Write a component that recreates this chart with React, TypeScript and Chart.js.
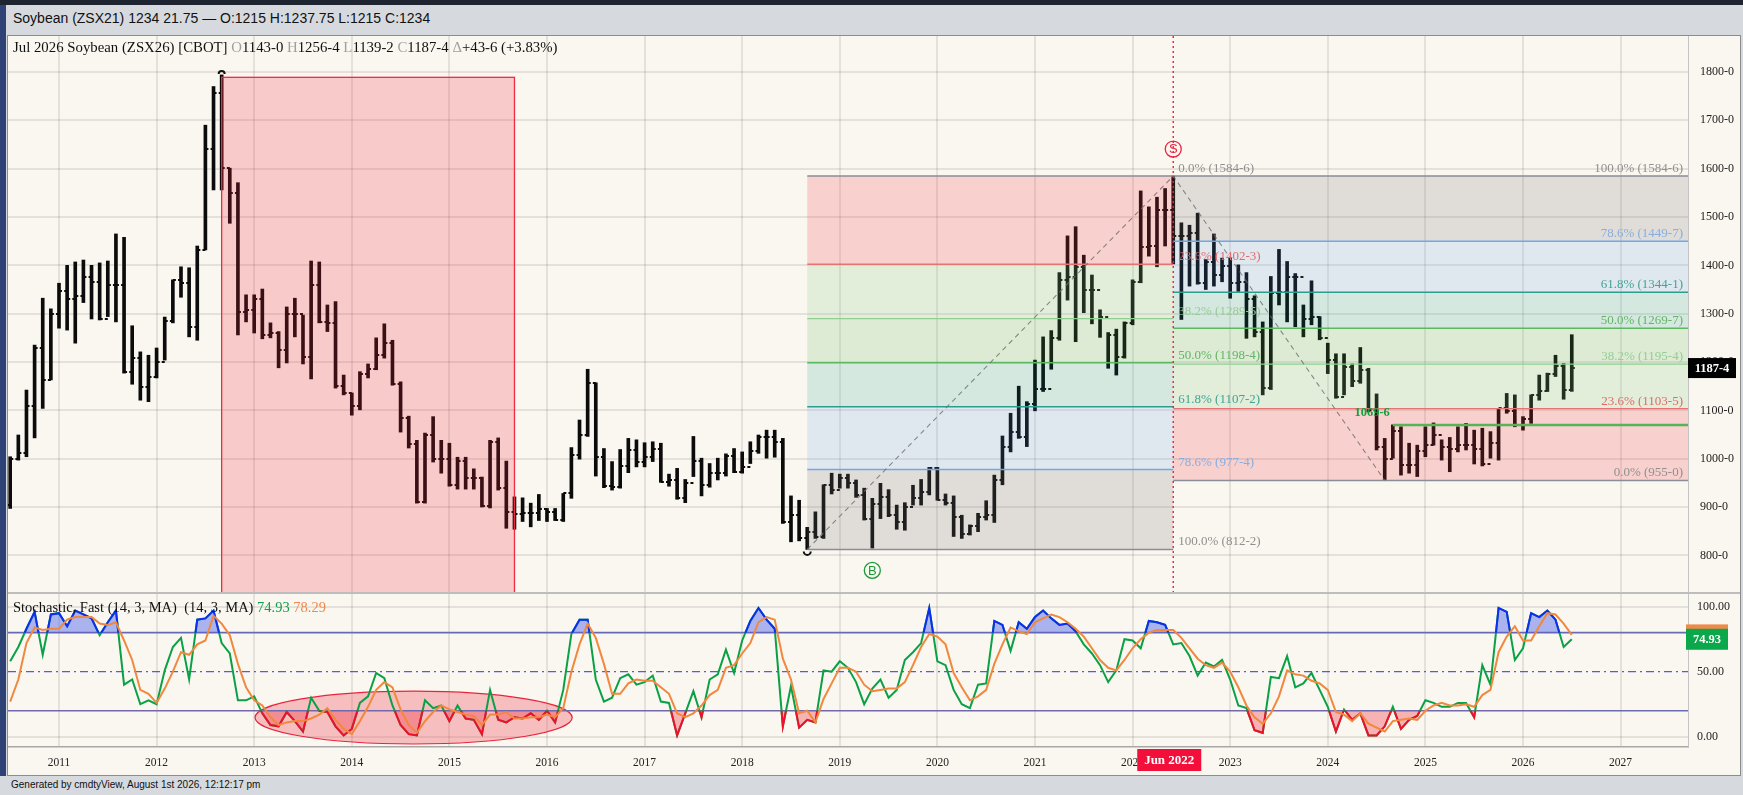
import React, { useEffect, useRef } from "react";
import { Chart, registerables } from "chart.js";
Chart.register(...registerables);

// ---- Monthly bars, Jul 2010 (index 0) .. Jul 2026 (index 192) ----
const highs = [
  1004, 1049, 1142, 1235, 1332, 1310, 1363, 1400, 1407, 1411,
  1400, 1405, 1409, 1465, 1458, 1275, 1221, 1214, 1229, 1293,
  1370, 1397, 1395, 1440, 1690, 1770, 1794, 1601, 1571, 1339,
  1339, 1351, 1281, 1263, 1314, 1332, 1297, 1409, 1407, 1318,
  1325, 1173, 1136, 1180, 1196, 1250, 1279, 1245, 1159, 1088,
  1038, 1053, 1087, 1038, 1032, 1003, 1003, 979, 962, 1038,
  1043, 995, 921, 919, 908, 926, 897, 897, 928, 1023,
  1080, 1185, 1157, 1021, 994, 1019, 1042, 1039, 1033, 1035,
  1032, 968, 980, 957, 1046, 1001, 990, 1001, 1010, 1021,
  1014, 1035, 1049, 1059, 1059, 1042, 923, 914, 858, 890,
  946, 970, 968, 968, 956, 939, 918, 949, 936, 904,
  909, 945, 957, 982, 982, 927, 923, 883, 863, 887,
  913, 966, 1047, 1094, 1150, 1118, 1204, 1252, 1265, 1385,
  1461, 1480, 1421, 1380, 1308, 1261, 1268, 1283, 1370, 1554,
  1521, 1541, 1559, 1584.75, 1488, 1483, 1508, 1412, 1465, 1415,
  1415, 1401, 1385, 1337, 1283, 1377, 1433, 1408, 1383, 1318,
  1368, 1294, 1239, 1217, 1217, 1196, 1230, 1187, 1134, 1042,
  1070, 1066, 1032, 1028, 1066, 1074, 1039, 1044, 1066, 1073,
  1059, 1063, 1056, 1104, 1135, 1132, 1087, 1132, 1173, 1177,
  1214, 1197, 1256.5,
];
const lows = [
  897, 997, 1004, 1043, 1104, 1163, 1270, 1266, 1239, 1323,
  1289, 1287, 1294, 1283, 1177, 1154, 1121, 1118, 1167, 1204,
  1281, 1334, 1252, 1245, 1432, 1556, 1556, 1487, 1256, 1283,
  1260, 1248, 1250, 1188, 1198, 1252, 1196, 1165, 1281, 1263,
  1146, 1132, 1090, 1101, 1167, 1184, 1208, 1152, 1055, 1022,
  908, 908, 993, 970, 943, 937, 937, 937, 900, 898,
  935, 856, 854, 870, 859, 872, 870, 872, 870, 918,
  999, 1046, 964, 940, 935, 939, 971, 983, 983, 994,
  951, 943, 916, 909, 963, 923, 941, 956, 964, 971,
  970, 990, 1011, 1001, 1003, 866, 828, 830, 812.25, 835,
  835, 927, 939, 939, 920, 873, 815, 876, 880, 854,
  852, 904, 904, 925, 914, 904, 839, 835, 842, 849,
  873, 868, 946, 1014, 1042, 1025, 1099, 1139, 1185, 1245,
  1328, 1242, 1302, 1279, 1251, 1187, 1173, 1208, 1277, 1364,
  1419, 1397, 1440, 1403, 1288, 1357, 1361, 1350, 1357, 1366,
  1332, 1346, 1249, 1252, 1132, 1143, 1318, 1283, 1273, 1252,
  1277, 1246, 1176, 1125, 1132, 1149, 1156, 1097, 1018, 955,
  1001, 966, 970, 963, 1004, 1028, 997, 973, 1014, 1018,
  989, 985, 1001, 997, 1094, 1066, 1059, 1073, 1121, 1139,
  1170, 1123, 1139.25,
];
const closes = [
  1000, 1012, 1108, 1229, 1163, 1300, 1346, 1330, 1337, 1376,
  1366, 1290, 1359, 1359, 1180, 1208, 1149, 1170, 1200, 1284,
  1369, 1363, 1273, 1432, 1640, 1756, 1601, 1549, 1304, 1308,
  1330, 1255, 1260, 1225, 1300, 1300, 1210, 1359, 1283, 1281,
  1150, 1135, 1108, 1175, 1185, 1215, 1240, 1155, 1085, 1030,
  910, 1050, 1000, 1000, 945, 995, 960, 960, 903, 1035,
  940, 890, 885, 888, 887, 895, 890, 874, 928, 1007,
  1050, 1156, 1004, 943, 942, 985, 1017, 994, 1004, 1021,
  952, 956, 918, 950, 995, 945, 970, 970, 1005, 973,
  983, 1015, 1045, 1045, 1035, 868, 883, 835, 849, 838,
  945, 935, 960, 950, 925, 876, 906, 920, 883, 869,
  900, 918, 932, 980, 915, 908, 880, 845, 860, 880,
  883, 955, 1025, 1056, 1045, 1114, 1145, 1145, 1250, 1370,
  1376, 1397, 1349, 1349, 1294, 1255, 1210, 1280, 1366, 1438,
  1439, 1514, 1514, 1460, 1460, 1467, 1364, 1407, 1380, 1399,
  1364, 1366, 1330, 1262, 1146, 1342, 1344, 1376, 1376, 1290,
  1294, 1250, 1204, 1128, 1190, 1160, 1183, 1100, 1025, 1000,
  1058, 987, 987, 1015, 1028, 1049, 1025, 1021, 1028, 1028,
  1021, 990, 1032, 1104, 1099, 1070, 1083, 1131, 1139, 1176,
  1191, 1143, 1187.5,
];
const firstOpen = 905;

// ---- Stochastic Fast (14,3) ----
const stochK = [
  58, 69, 83, 96, 63, 94, 95, 85, 97, 94,
  91, 78, 88, 97, 40, 44, 25, 28, 25, 51,
  69, 76, 44, 90, 91, 97, 72, 64, 28, 28,
  31, 18, 9, 8, 19, 12, 4, 30, 20, 19,
  8, 1, 6, 26, 31, 49, 45, 24, 9, 2,
  1, 28, 22, 24, 12, 24, 14, 13, 2, 36,
  13, 11, 15, 14, 18, 13, 20, 11, 36, 79,
  90, 90, 44, 27, 30, 45, 48, 40, 42, 47,
  27, 26, 1, 18, 35, 15, 44, 48, 67, 49,
  74, 89, 99, 90, 83, 8, 39, 7, 13, 11,
  51, 50, 58, 53, 42, 25, 37, 44, 30, 36,
  59, 65, 72, 99, 58, 55, 36, 25, 22, 40,
  41, 89, 86, 66, 88, 83, 92, 97, 91, 86,
  87, 81, 71, 64, 55, 42, 51, 75, 74, 68,
  89, 88, 86, 71, 72, 62, 47, 57, 54, 59,
  44, 24, 22, 5, 3, 46, 45, 62, 38, 41,
  49, 36, 23, 4, 21, 13, 18, 1, 1, 8,
  23, 6, 13, 16, 28, 26, 23, 23, 26, 26,
  15, 55, 40, 99, 96, 59, 68, 95, 92, 97,
  90, 69, 74.93,
];
const stochD = [
  27, 44, 72, 84, 82, 83, 83, 90, 92, 92,
  92, 87, 86, 88, 74, 59, 36, 33, 26, 37,
  50, 65, 63, 71, 74, 93, 87, 78, 56, 38,
  28, 24, 15, 9, 11, 12, 12, 14, 17, 22,
  13, 6, 2, 12, 23, 36, 42, 38, 21, 9,
  3, 12, 19, 24, 21, 19, 17, 16, 9, 17,
  17, 19, 14, 14, 15, 15, 17, 15, 22, 50,
  71, 87, 76, 56, 33, 33, 41, 44, 43, 43,
  38, 33, 18, 15, 18, 24, 32, 36, 53, 55,
  64, 72, 88, 92, 90, 60, 44, 18, 20, 11,
  29, 41, 53, 53, 50, 40, 35, 36, 37, 37,
  42, 55, 69, 79, 77, 71, 49, 38, 28, 31,
  36, 56, 71, 84, 81, 79, 88, 91, 94, 92,
  88, 83, 77, 68, 59, 53, 51, 59, 68, 75,
  80, 82, 82, 82, 76, 68, 60, 55, 53, 57,
  50, 38, 24, 15, 10, 18, 31, 51, 48, 47,
  43, 41, 36, 19, 17, 12, 18, 10, 7, 4,
  12, 13, 14, 13, 20, 24, 26, 24, 24, 25,
  23, 32, 36, 65, 77, 85, 74, 74, 85, 95,
  94, 87, 78.29,
];

const yearLabels = ["2011", "2012", "2013", "2014", "2015", "2016", "2017", "2018", "2019", "2020", "2021", "2022", "2023", "2024", "2025", "2026", "2027"];
const yearTickIdx = [6, 18, 30, 42, 54, 66, 78, 90, 102, 114, 126, 138, 150, 162, 174, 186, 198];
const priceTicks = [800, 900, 1000, 1100, 1200, 1300, 1400, 1500, 1600, 1700, 1800];
const stochTicks = [0, 50, 100];

// drawing tools (values in month index / price units)
const redBox = { fromIdx: 26, toIdx: 62, top: 1789 };
const fibUp = { fromIdx: 98, toIdx: 143, low: 812.25, high: 1584.75 };
const fibDown = { fromIdx: 143, lowIdx: 169, low: 955, high: 1584.75 };
const fibLevels = [0, 0.236068, 0.381966, 0.5, 0.618034, 0.786, 1];
const fibUpLabels = ["0.0% (1584-6)", "23.6% (1402-3)", "38.2% (1289-5)", "50.0% (1198-4)", "61.8% (1107-2)", "78.6% (977-4)", "100.0% (812-2)"];
const fibDownLabels = ["0.0% (955-0)", "23.6% (1103-5)", "38.2% (1195-4)", "50.0% (1269-7)", "61.8% (1344-1)", "78.6% (1449-7)", "100.0% (1584-6)"];
const fibLineColors = ["#8a8d96", "#e57373", "#8fcf8f", "#5cb860", "#2a9d8f", "#6fa8e8", "#8a8d96"];
const fibTextColors = ["#8f8f8f", "#e06a6a", "#96cc96", "#62b566", "#44a294", "#86aee0", "#8f8f8f"];
const fibBandColors = [
  "rgba(242,54,69,0.2)",
  "rgba(129,199,132,0.2)",
  "rgba(76,175,80,0.17)",
  "rgba(0,150,136,0.15)",
  "rgba(80,150,235,0.15)",
  "rgba(120,115,120,0.2)",
];
const supportLine = { fromIdx: 170, value: 1069.75, label: "1069-6" };
const sMarker = { idx: 143 };
const bMarker = { idx: 106 };
const lastPrice = { value: 1187.5, label: "1187-4" };
const markerIdx = { peak: 26, trough: 98 };
const stochEllipse = { fromIdx: 30.1, toIdx: 69.1, top: 35, bottom: -5.6 };
const dateFlag = { idx: 143, label: "Jun 2022" };

const xMin = -0.27;
const xMax = 206.29;
const SERIF = '"Liberation Serif", "DejaVu Serif", serif';
const SANS = '"Liberation Sans", Arial, sans-serif';
const gridColor = "rgba(0,0,0,0.085)";

function tickImage(side: "left" | "right") {
  const c = document.createElement("canvas");
  c.width = 10;
  c.height = 2;
  const g = c.getContext("2d")!;
  g.fillStyle = "#0b0b0b";
  if (side === "left") g.fillRect(2, 0, 3, 2);
  else g.fillRect(5, 0, 3, 2);
  return c;
}

export default function App() {
  const priceRef = useRef<HTMLCanvasElement>(null);
  const stochRef = useRef<HTMLCanvasElement>(null);

  useEffect(() => {
    Chart.defaults.font.family = SERIF;
    const idx = highs.map((_, i) => i);
    const opens = closes.map((_, i) => (i === 0 ? firstOpen : closes[i - 1]));

    const pricePlugin = {
      id: "priceOverlay",
      afterDatasetsDraw(chart: any) {
        const { ctx, chartArea: a, scales } = chart;
        const X = (v: number) => scales.x.getPixelForValue(v);
        const Y = (v: number) => scales.y.getPixelForValue(v);
        ctx.save();
        ctx.beginPath();
        ctx.rect(a.left, a.top, a.right - a.left, a.bottom - a.top);
        ctx.clip();

        // red box
        const rx0 = X(redBox.fromIdx), rx1 = X(redBox.toIdx), ry0 = Y(redBox.top);
        ctx.fillStyle = "rgba(240,40,60,0.21)";
        ctx.fillRect(rx0, ry0, rx1 - rx0, a.bottom - ry0 + 2);
        ctx.strokeStyle = "#ef2a42";
        ctx.lineWidth = 1.3;
        ctx.strokeRect(rx0, ry0, rx1 - rx0, a.bottom - ry0 + 4);

        // fib retracement (up move, measured from top)
        const upRange = fibUp.high - fibUp.low;
        const upP = fibLevels.map((l) => fibUp.high - l * upRange);
        const ux0 = X(fibUp.fromIdx), ux1 = X(fibUp.toIdx);
        for (let k = 0; k < 6; k++) {
          ctx.fillStyle = fibBandColors[k];
          ctx.fillRect(ux0, Y(upP[k]), ux1 - ux0, Y(upP[k + 1]) - Y(upP[k]));
        }
        // fib retracement (down move, measured from bottom)
        const dnRange = fibDown.high - fibDown.low;
        const dnP = fibLevels.map((l) => fibDown.low + l * dnRange);
        const dx0 = X(fibDown.fromIdx), dx1 = a.right;
        for (let k = 0; k < 6; k++) {
          ctx.fillStyle = fibBandColors[k];
          ctx.fillRect(dx0, Y(dnP[k + 1]), dx1 - dx0, Y(dnP[k]) - Y(dnP[k + 1]));
        }
        ctx.lineWidth = 1.4;
        for (let k = 0; k < 7; k++) {
          ctx.strokeStyle = fibLineColors[k];
          ctx.beginPath();
          ctx.moveTo(ux0, Y(upP[k]));
          ctx.lineTo(ux1, Y(upP[k]));
          ctx.stroke();
          ctx.beginPath();
          ctx.moveTo(dx0, Y(dnP[k]));
          ctx.lineTo(dx1, Y(dnP[k]));
          ctx.stroke();
        }

        // dashed trend lines
        ctx.setLineDash([5, 4]);
        ctx.strokeStyle = "rgba(110,110,110,0.8)";
        ctx.lineWidth = 1.1;
        ctx.beginPath();
        ctx.moveTo(X(fibUp.fromIdx), Y(fibUp.low));
        ctx.lineTo(X(fibUp.toIdx), Y(fibUp.high));
        ctx.lineTo(X(fibDown.lowIdx), Y(fibDown.low));
        ctx.stroke();

        // red dotted date line
        ctx.setLineDash([2, 3]);
        ctx.strokeStyle = "#ee2040";
        ctx.lineWidth = 1.4;
        ctx.beginPath();
        ctx.moveTo(X(sMarker.idx), a.top);
        ctx.lineTo(X(sMarker.idx), a.bottom);
        ctx.stroke();
        ctx.setLineDash([]);

        // support line
        ctx.strokeStyle = "#55b45a";
        ctx.lineWidth = 2.6;
        ctx.beginPath();
        ctx.moveTo(X(supportLine.fromIdx), Y(supportLine.value));
        ctx.lineTo(a.right, Y(supportLine.value));
        ctx.stroke();

        // labels
        ctx.font = `13px ${SERIF}`;
        ctx.textBaseline = "alphabetic";
        ctx.textAlign = "left";
        for (let k = 0; k < 7; k++) {
          ctx.fillStyle = fibTextColors[k];
          ctx.fillText(fibUpLabels[k], ux1 + 5, Y(upP[k]) - 4);
        }
        ctx.textAlign = "right";
        for (let k = 0; k < 7; k++) {
          ctx.fillStyle = fibTextColors[k];
          ctx.fillText(fibDownLabels[k], a.right - 5, Y(dnP[k]) - 4);
        }
        ctx.font = `bold 12.5px ${SERIF}`;
        ctx.fillStyle = "#12a03c";
        ctx.fillText(supportLine.label, X(supportLine.fromIdx) - 3, Y(supportLine.value) - 9);

        // S and B markers
        const drawCircleMark = (cx: number, cy: number, txt: string, col: string) => {
          ctx.beginPath();
          ctx.arc(cx, cy, 8, 0, Math.PI * 2);
          ctx.strokeStyle = col;
          ctx.lineWidth = 1.3;
          ctx.stroke();
          ctx.fillStyle = col;
          ctx.font = `13px ${SANS}`;
          ctx.textAlign = "center";
          ctx.textBaseline = "middle";
          ctx.fillText(txt, cx, cy + 0.5);
        };
        drawCircleMark(X(sMarker.idx), Y(fibUp.high) - 27, "S", "#ee2040");
        drawCircleMark(X(bMarker.idx), Y(fibUp.low) + 21, "B", "#1a9a3a");

        // small arcs at extreme bars
        ctx.strokeStyle = "#111";
        ctx.lineWidth = 2;
        ctx.beginPath();
        ctx.arc(X(markerIdx.peak), Y(highs[markerIdx.peak]) - 1, 3, Math.PI, Math.PI * 2);
        ctx.stroke();
        ctx.beginPath();
        ctx.arc(X(markerIdx.trough), Y(lows[markerIdx.trough]) + 2, 3.5, 0, Math.PI);
        ctx.stroke();
        ctx.restore();
      },
      afterDraw(chart: any) {
        const { ctx, chartArea: a, scales } = chart;
        const y = scales.y.getPixelForValue(lastPrice.value);
        ctx.save();
        ctx.fillStyle = "#000";
        ctx.fillRect(a.right, y - 10, 48, 20);
        ctx.fillStyle = "#fff";
        ctx.font = `bold 12.5px ${SERIF}`;
        ctx.textAlign = "center";
        ctx.textBaseline = "middle";
        ctx.fillText(lastPrice.label, a.right + 24, y + 1);
        ctx.restore();
      },
    };

    const noPadY = (s: any) => {
      s.width = 52;
      s.paddingTop = 0;
      s.paddingBottom = 0;
    };

    const priceChart = new Chart(priceRef.current!, {
      type: "bar",
      data: {
        datasets: [
          {
            type: "bar",
            data: idx.map((i) => ({ x: i, y: [lows[i], highs[i]] })),
            backgroundColor: "#0b0b0b",
            borderWidth: 0,
            barThickness: 3,
            order: 2,
          } as any,
          {
            type: "scatter",
            data: idx.map((i) => ({ x: i, y: opens[i] })),
            pointStyle: tickImage("left"),
            order: 1,
          } as any,
          {
            type: "scatter",
            data: idx.map((i) => ({ x: i, y: closes[i] })),
            pointStyle: tickImage("right"),
            order: 1,
          } as any,
        ],
      },
      options: {
        responsive: false,
        animation: false,
        events: [],
        layout: { padding: 0, autoPadding: false },
        plugins: { legend: { display: false }, tooltip: { enabled: false } },
        scales: {
          x: {
            type: "linear",
            min: xMin,
            max: xMax,
            offset: false,
            afterBuildTicks: (s: any) => {
              s.ticks = yearTickIdx.map((v) => ({ value: v }));
            },
            afterFit: (s: any) => {
              s.height = 0;
              s.paddingLeft = 0;
              s.paddingRight = 0;
            },
            ticks: { display: false },
            grid: { color: gridColor, lineWidth: 2, drawTicks: false, offset: false },
            border: { display: false },
          },
          y: {
            type: "linear",
            position: "right",
            min: 722.1,
            max: 1874.5,
            afterBuildTicks: (s: any) => {
              s.ticks = priceTicks.map((v) => ({ value: v }));
            },
            afterFit: noPadY,
            ticks: {
              callback: (v: any) => `${v}-0`,
              font: { family: SERIF, size: 12 },
              color: "#222",
              padding: 12,
            },
            grid: { color: gridColor, lineWidth: 2, drawTicks: false },
            border: { display: true, color: "#c4c4c4", width: 1 },
          },
        },
      } as any,
      plugins: [pricePlugin],
    });

    const bandClip = {
      id: "bandClip",
      beforeDatasetDraw(chart: any, args: any) {
        const ds = chart.data.datasets[args.index];
        if (!ds.bandClip) return;
        const { ctx, chartArea: a, scales } = chart;
        ctx.save();
        ctx.beginPath();
        if (ds.bandClip === "above") {
          const yb = scales.y.getPixelForValue(80);
          ctx.rect(a.left, a.top, a.right - a.left, yb - a.top);
        } else {
          const yb = scales.y.getPixelForValue(20);
          ctx.rect(a.left, yb, a.right - a.left, a.bottom - yb);
        }
        ctx.clip();
      },
      afterDatasetDraw(chart: any, args: any) {
        const ds = chart.data.datasets[args.index];
        if (!ds.bandClip) return;
        chart.ctx.restore();
      },
    };

    const stochPlugin = {
      id: "stochOverlay",
      beforeDatasetsDraw(chart: any) {
        const { ctx, chartArea: a, scales } = chart;
        const X = (v: number) => scales.x.getPixelForValue(v);
        const Y = (v: number) => scales.y.getPixelForValue(v);
        ctx.save();
        // ellipse
        const ex0 = X(stochEllipse.fromIdx), ex1 = X(stochEllipse.toIdx);
        const ey0 = Y(stochEllipse.top), ey1 = Y(stochEllipse.bottom);
        ctx.beginPath();
        ctx.ellipse((ex0 + ex1) / 2, (ey0 + ey1) / 2, (ex1 - ex0) / 2, (ey1 - ey0) / 2, 0, 0, Math.PI * 2);
        ctx.fillStyle = "rgba(240,60,75,0.3)";
        ctx.fill();
        ctx.strokeStyle = "#e8243c";
        ctx.lineWidth = 1.2;
        ctx.stroke();
        // bands
        ctx.strokeStyle = "#6c6cb2";
        ctx.lineWidth = 1.6;
        for (const v of [80, 20]) {
          ctx.beginPath();
          ctx.moveTo(a.left, Y(v));
          ctx.lineTo(a.right, Y(v));
          ctx.stroke();
        }
        ctx.setLineDash([8, 4, 2, 4]);
        ctx.strokeStyle = "#5a5ad6";
        ctx.lineWidth = 1.2;
        ctx.beginPath();
        ctx.moveTo(a.left, Y(50));
        ctx.lineTo(a.right, Y(50));
        ctx.stroke();
        ctx.restore();
      },
      afterDraw(chart: any) {
        const { ctx, chartArea: a, scales } = chart;
        const X = (v: number) => scales.x.getPixelForValue(v);
        const Y = (v: number) => scales.y.getPixelForValue(v);
        ctx.save();
        // date flag
        const fx = X(dateFlag.idx) - 4;
        ctx.fillStyle = "#f20f3a";
        ctx.fillRect(fx - 32, a.bottom + 2, 64, 22);
        ctx.fillStyle = "#fff";
        ctx.font = `bold 13px ${SERIF}`;
        ctx.textAlign = "center";
        ctx.textBaseline = "middle";
        ctx.fillText(dateFlag.label, fx, a.bottom + 13.5);
        // value boxes
        const lastD = stochD[stochD.length - 1];
        const lastK = stochK[stochK.length - 1];
        ctx.fillStyle = "#f08a4a";
        ctx.fillRect(a.right - 2, Y(lastD) - 10.5, 42, 21);
        ctx.fillStyle = "#0aa84a";
        ctx.fillRect(a.right - 2, Y(lastK) - 10.5, 42, 21);
        ctx.fillStyle = "#fff";
        ctx.font = `bold 12.5px ${SERIF}`;
        ctx.fillText(lastK.toFixed(2), a.right + 19, Y(lastK) + 0.5);
        ctx.restore();
      },
    };

    const kData = idx.map((i) => ({ x: i, y: stochK[i] }));
    const stochChart = new Chart(stochRef.current!, {
      type: "line",
      data: {
        datasets: [
          {
            data: idx.map((i) => ({ x: i, y: stochD[i] })),
            borderColor: "#f0883e",
            borderWidth: 2,
            pointRadius: 0,
            fill: false,
            tension: 0,
            order: 0,
          },
          {
            data: kData,
            borderColor: "#0b2ef2",
            borderWidth: 2,
            pointRadius: 0,
            tension: 0,
            fill: { target: { value: 80 }, above: "rgba(60,85,235,0.42)", below: "rgba(0,0,0,0)" },
            order: 1,
            bandClip: "above",
          },
          {
            data: kData,
            borderColor: "#f0102c",
            borderWidth: 2,
            pointRadius: 0,
            tension: 0,
            fill: { target: { value: 20 }, above: "rgba(0,0,0,0)", below: "rgba(240,50,70,0.35)" },
            order: 1,
            bandClip: "below",
          },
          {
            data: kData,
            borderColor: "#0aa046",
            borderWidth: 2,
            pointRadius: 0,
            tension: 0,
            fill: false,
            order: 2,
          },
        ] as any,
      },
      options: {
        responsive: false,
        animation: false,
        events: [],
        layout: { padding: 0, autoPadding: false },
        plugins: { legend: { display: false }, tooltip: { enabled: false } },
        scales: {
          x: {
            type: "linear",
            min: xMin,
            max: xMax,
            afterBuildTicks: (s: any) => {
              s.ticks = yearTickIdx.map((v) => ({ value: v }));
            },
            afterFit: (s: any) => {
              s.height = 28;
              s.paddingLeft = 0;
              s.paddingRight = 0;
            },
            ticks: {
              autoSkip: false,
              maxRotation: 0,
              callback: (v: any) => {
                const k = yearTickIdx.indexOf(v);
                return k >= 0 ? yearLabels[k] : "";
              },
              font: { family: SERIF, size: 11.5 },
              color: "#222",
              padding: 9,
            },
            grid: { color: gridColor, lineWidth: 2, drawTicks: false },
            border: { display: true, color: "#a8a8a8", width: 1.5 },
          },
          y: {
            type: "linear",
            position: "right",
            min: -7.9,
            max: 110.5,
            afterBuildTicks: (s: any) => {
              s.ticks = stochTicks.map((v) => ({ value: v }));
            },
            afterFit: noPadY,
            ticks: {
              callback: (v: any) => Number(v).toFixed(2),
              font: { family: SERIF, size: 12 },
              color: "#222",
              padding: 9,
            },
            grid: {
              drawTicks: false,
              lineWidth: 2,
              color: (c: any) => (c.tick && c.tick.value === 50 ? "rgba(0,0,0,0)" : gridColor),
            },
            border: { display: true, color: "#c4c4c4", width: 1 },
          },
        },
      } as any,
      plugins: [bandClip, stochPlugin],
    });

    return () => {
      priceChart.destroy();
      stochChart.destroy();
    };
  }, []);

  const lastK = stochK[stochK.length - 1].toFixed(2);
  const lastD = stochD[stochD.length - 1].toFixed(2);
  const gray = { color: "#a0a0a0" };

  return (
    <div style={{ position: "fixed", left: 0, top: 0, width: 1743, height: 795, background: "#d6dadf", overflow: "hidden" }}>
      <div style={{ position: "absolute", left: 0, top: 0, width: 1743, height: 5, background: "#1f2431" }} />
      <div style={{ position: "absolute", left: 0, top: 5, width: 6, height: 771, background: "#2e4275" }} />
      <div style={{ position: "absolute", left: 13, top: 10, font: `14px ${SANS}`, color: "#111", whiteSpace: "pre" }}>
        Soybean (ZSX21) 1234 21.75 — O:1215 H:1237.75 L:1215 C:1234
      </div>
      <div style={{ position: "absolute", left: 7, top: 35, width: 1734, height: 741, background: "#faf7f0", border: "1px solid #8c8c8c", boxSizing: "border-box" }} />
      <canvas ref={priceRef} width={1732} height={557} style={{ position: "absolute", left: 8, top: 36, width: 1732, height: 557 }} />
      <canvas ref={stochRef} width={1732} height={182} style={{ position: "absolute", left: 8, top: 593, width: 1732, height: 182 }} />
      <div style={{ position: "absolute", left: 8, top: 592, width: 1732, height: 2, background: "#bdbdbd" }} />
      <div style={{ position: "absolute", left: 13, top: 39, font: `14.8px ${SERIF}`, color: "#111", whiteSpace: "pre" }}>
        Jul 2026 Soybean (ZSX26) [CBOT] <span style={gray}>O</span>1143-0 <span style={gray}>H</span>1256-4 <span style={gray}>L</span>1139-2 <span style={gray}>C</span>1187-4 <span style={gray}>Δ</span>+43-6 (+3.83%)
      </div>
      <div style={{ position: "absolute", left: 13, top: 599, font: `14.5px ${SERIF}`, color: "#111", whiteSpace: "pre" }}>
        Stochastic, Fast (14, 3, MA)  (14, 3, MA) <span style={{ color: "#10a04a" }}>{lastK}</span> <span style={{ color: "#f0884a" }}>{lastD}</span>
      </div>
      <div style={{ position: "absolute", left: 11, top: 779, font: `10px ${SANS}`, color: "#111", whiteSpace: "pre" }}>
        Generated by cmdtyView, August 1st 2026, 12:12:17 pm
      </div>
    </div>
  );
}
